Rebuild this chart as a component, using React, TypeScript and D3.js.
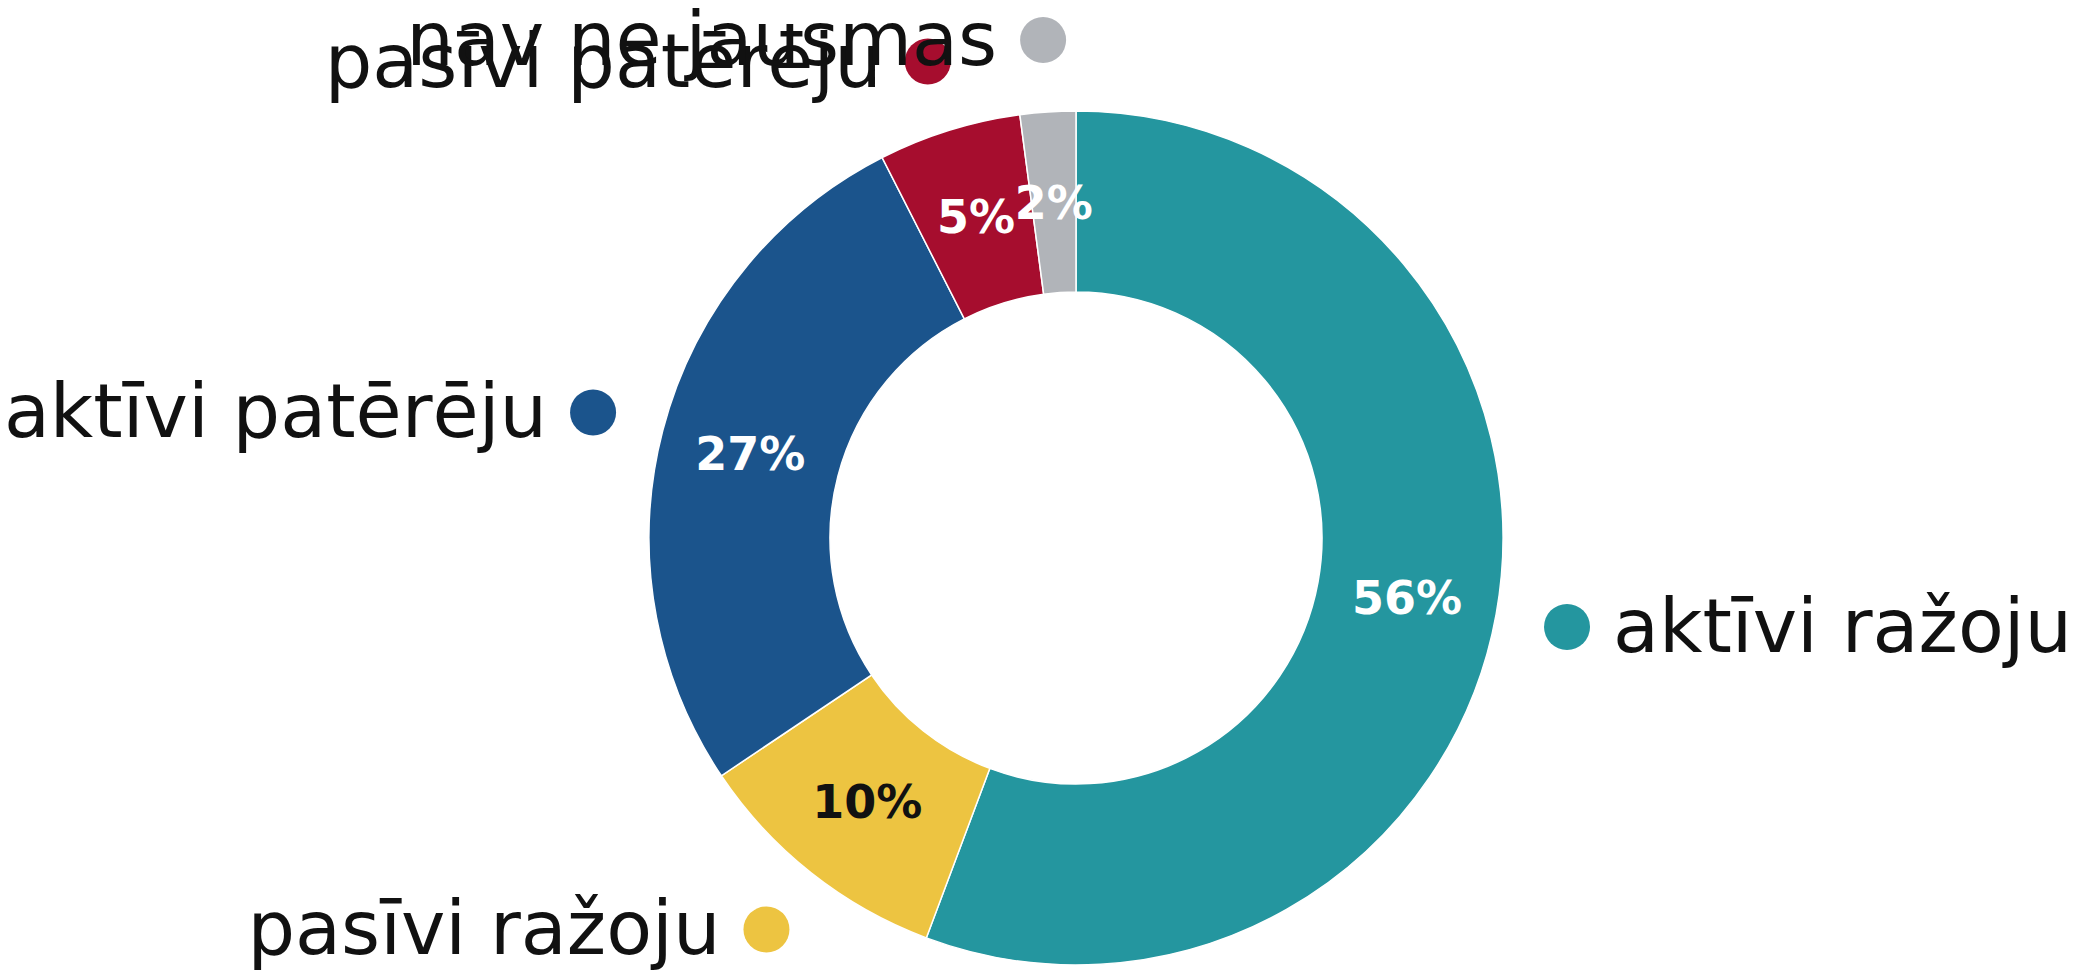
import React, { useEffect, useRef } from 'react';
import * as d3 from 'd3';

// share of respondents per group, clockwise from 12 o'clock
const categories = ['aktīvi ražoju', 'pasīvi ražoju', 'aktīvi patērēju', 'pasīvi patērēju', 'nav ne jausmas'];
const values = [55.7, 9.9, 26.9, 5.4, 2.1];
const colors = ['#24969f', '#edc441', '#1b548c', '#a60d2e', '#b1b4b9'];
const valueTextColors = ['#ffffff', '#111111', '#ffffff', '#ffffff', '#ffffff'];

const W = 2083;
const H = 980;

const App = () => {
    const ref = useRef<SVGSVGElement>(null);

    useEffect(() => {
        const svg = d3.select(ref.current);
        svg.selectAll('*').remove();

        const cx = 1076;
        const cy = 538;
        const outerR = 427;
        const innerR = 246;
        const labelR = 499;

        const data = categories.map((c, i) => ({ name: c, value: values[i], i }));

        const pie = d3.pie<any>().sort(null).value((d) => d.value);
        const arcs = pie(data);

        const arc = d3.arc<any>().innerRadius(innerR).outerRadius(outerR);

        const g = svg.append('g').attr('transform', `translate(${cx},${cy})`);

        // slices
        g.selectAll('path.slice')
            .data(arcs)
            .join('path')
            .attr('class', 'slice')
            .attr('d', arc)
            .attr('fill', (d) => colors[d.data.i])
            .attr('stroke', '#ffffff')
            .attr('stroke-width', 1.5);

        // percent labels in the ring
        g.selectAll('text.pct')
            .data(arcs)
            .join('text')
            .attr('class', 'pct')
            .attr('transform', (d) => `translate(${arc.centroid(d)})`)
            .attr('text-anchor', 'middle')
            .attr('dy', '0.36em')
            .style('font-family', '"DejaVu Sans", sans-serif')
            .style('font-weight', 'bold')
            .style('font-size', '46px')
            .attr('fill', (d) => valueTextColors[d.data.i])
            .text((d) => `${Math.round(d.data.value)}%`);

        // outer labels with a coloured dot
        const outer = g.selectAll('g.lbl')
            .data(arcs)
            .join('g')
            .attr('class', 'lbl')
            .attr('transform', (d) => {
                const a = (d.startAngle + d.endAngle) / 2;
                return `translate(${Math.sin(a) * labelR},${-Math.cos(a) * labelR})`;
            });

        outer.append('circle')
            .attr('r', 23)
            .attr('fill', (d) => colors[d.data.i]);

        outer.append('text')
            .attr('x', (d) => ((d.startAngle + d.endAngle) / 2 < Math.PI ? 46 : -46))
            .attr('y', 25)
            .attr('text-anchor', (d) => ((d.startAngle + d.endAngle) / 2 < Math.PI ? 'start' : 'end'))
            .style('font-family', '"DejaVu Sans", sans-serif')
            .style('font-size', '75px')
            .attr('fill', '#111111')
            .text((d) => d.data.name);
    }, []);

    return (
        <svg
            ref={ref}
            width={W}
            height={H}
            style={{ position: 'absolute', top: 0, left: 0, background: '#ffffff' }}
        />
    );
};

export default App;
